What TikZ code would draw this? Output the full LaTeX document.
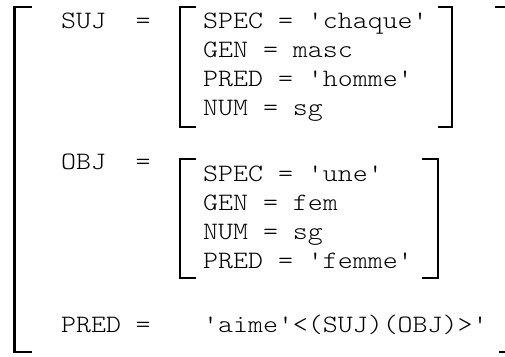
\documentclass[tikz,border=0pt]{standalone}
\usepackage{fontspec}
\setmonofont{lmmonolt10-regular.otf}[FakeStretch=1.14]
\usepackage{tikz}
\usetikzlibrary{positioning}
\tikzstyle{attr} = [font=\ttfamily\fontsize{25}{29}\selectfont, inner sep=0pt, text height=14pt, text depth=0pt, anchor=west]
\tikzstyle{equal} = [font=\ttfamily\fontsize{25}{29}\selectfont, inner sep=0pt, text height=14pt, text depth=0pt]
\tikzstyle{bracket} = [line width=2.6pt, line join=miter]

\begin{document}
\begin{tikzpicture}[x=1pt, y=-1pt, node distance=29pt]
			\useasboundingbox (0,0) rectangle (505,356);

			% outer matrix
			\draw [bracket] (32,7) -- (14.5,7) -- (14.5,352) -- (32,352);
			\draw [bracket] (495,7) -- (505,7);
			\draw [bracket] (499,352) -- (505,352);

			% SUJ
			\node (sujlbl) [attr] at (61,21) {SUJ};
			\node (sujeq) [equal] at (143,21) {=};
			\node (sujspec) [attr] at (203,21) {SPEC = 'chaque'};
			\node (sujgen) [attr, below=of sujspec.west, anchor=west] {GEN = masc};
			\node (sujpred) [attr, below=of sujgen.west, anchor=west] {PRED = 'homme'};
			\node (sujnum) [attr, below=of sujpred.west, anchor=west] {NUM = sg};
			\draw [bracket] (196,7) -- (180,7) -- (180,127) -- (196,127);
			\draw [bracket] (438,7) -- (452,7) -- (452,127) -- (438,127);

			% OBJ
			\node (objlbl) [attr] at (61,162) {OBJ};
			\node (objeq) [equal] at (143,162) {=};
			\node (objspec) [attr] at (203,174) {SPEC = 'une'};
			\node (objgen) [attr, below=of objspec.west, anchor=west] {GEN = fem};
			\node (objnum) [attr, below=of objgen.west, anchor=west] {NUM = sg};
			\node (objpred) [attr, below=of objnum.west, anchor=west] {PRED = 'femme'};
			\draw [bracket] (196,159) -- (180,159) -- (180,278) -- (196,278);
			\draw [bracket] (422,159) -- (438,159) -- (438,278) -- (422,278);

			% PRED
			\node (predlbl) [attr] at (61,325) {PRED};
			\node (predeq) [equal] at (143,325) {=};
			\node (predval) [attr] at (203,325) {'aime'<(SUJ)(OBJ)>'};
		\end{tikzpicture}
\end{document}
